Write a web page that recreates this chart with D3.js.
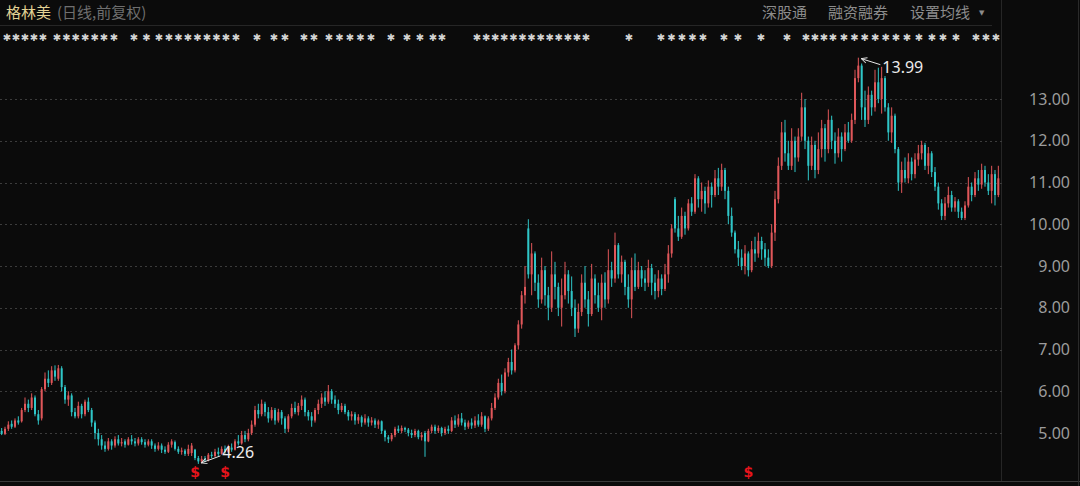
<!DOCTYPE html>
<html><head><meta charset="utf-8">
<script src="https://cdn.jsdelivr.net/npm/d3@7"></script>
<style>html,body{margin:0;padding:0;background:#0b0b0b;overflow:hidden}</style>
</head><body><svg id="c" width="1080" height="486"></svg>
<script>
// ---------- DATA ----------
const title = "格林美";
const subtitle = "(日线,前复权)";
const menuItems = ["深股通", "融资融券", "设置均线"];
const yTicks = [5, 6, 7, 8, 9, 10, 11, 12, 13];
const signalIdx = [58, 67, 224];

const opens = [
5.05,4.98,5.10,5.22,5.15,5.30,5.28,5.55,5.70,5.60,
5.85,5.45,5.35,6.05,6.30,6.20,6.50,6.30,6.55,6.10,
5.80,5.90,5.50,5.40,5.65,5.45,5.75,5.55,5.25,5.00,
4.85,4.70,4.62,4.80,4.70,4.85,4.75,4.80,4.72,4.85,
4.80,4.75,4.85,4.78,4.72,4.80,4.70,4.62,4.70,4.60,
4.55,4.72,4.78,4.62,4.55,4.58,4.50,4.52,4.60,4.40,
4.32,4.38,4.35,4.48,4.45,4.55,4.50,4.62,4.55,4.65,
4.60,4.80,4.75,4.95,4.85,5.00,5.20,5.55,5.45,5.70,
5.50,5.35,5.55,5.30,5.50,5.35,5.10,5.40,5.60,5.50,
5.65,5.80,5.50,5.40,5.30,5.55,5.70,5.85,5.75,6.00,
5.80,5.70,5.55,5.65,5.50,5.40,5.45,5.30,5.38,5.25,
5.35,5.25,5.30,5.20,5.28,5.05,4.90,4.85,4.95,5.10,
5.05,5.12,5.08,5.00,4.95,5.05,4.90,5.00,4.80,5.05,
5.15,5.05,5.12,5.00,5.10,5.05,5.30,5.20,5.35,5.25,
5.15,5.25,5.18,5.30,5.20,5.40,5.10,5.35,5.60,5.85,
6.20,6.00,6.45,6.70,6.50,7.10,7.60,8.30,9.90,8.80,
9.30,8.60,8.20,8.90,8.30,8.00,8.80,8.50,8.00,8.30,
8.80,8.40,8.00,7.50,7.90,8.60,8.20,7.85,8.70,8.30,
8.00,8.60,8.20,8.90,8.70,9.50,8.80,9.10,8.50,8.20,
8.90,8.50,8.90,8.70,8.60,8.95,8.60,8.40,8.70,8.45,
8.80,9.30,10.60,9.90,9.70,10.20,9.90,10.50,10.30,11.10,
10.60,10.80,10.50,10.90,10.70,11.10,10.90,11.30,10.80,10.20,
9.80,9.40,9.20,9.00,9.30,8.90,9.40,9.30,9.60,9.40,
9.20,9.00,9.80,10.60,11.40,12.20,11.70,11.40,12.00,11.60,
12.10,12.80,12.00,11.40,11.90,11.30,11.80,12.30,11.80,12.50,
12.00,11.70,12.10,11.80,12.20,12.00,12.50,13.50,13.80,12.80,
12.50,13.10,12.80,13.40,13.00,13.50,12.80,12.20,12.60,11.80,
11.00,11.30,11.10,11.50,11.20,11.55,11.70,11.90,11.40,11.70,
11.25,10.90,10.50,10.20,10.50,10.70,10.40,10.55,10.30,10.15,
10.45,10.90,10.70,11.10,10.95,11.30,11.00,10.80,11.20,10.70
];
const closes = [
4.98,5.10,5.20,5.15,5.30,5.25,5.55,5.70,5.60,5.85,
5.45,5.30,6.05,6.30,6.20,6.50,6.35,6.55,6.10,5.80,
5.90,5.50,5.40,5.65,5.45,5.75,5.55,5.25,5.00,4.85,
4.70,4.62,4.80,4.70,4.85,4.75,4.78,4.72,4.85,4.80,
4.75,4.85,4.78,4.72,4.80,4.70,4.62,4.70,4.60,4.55,
4.72,4.80,4.62,4.55,4.58,4.50,4.62,4.70,4.40,4.32,
4.38,4.35,4.48,4.45,4.55,4.50,4.62,4.55,4.65,4.60,
4.80,4.75,4.95,4.85,5.00,5.20,5.55,5.45,5.70,5.50,
5.35,5.55,5.30,5.50,5.35,5.10,5.40,5.60,5.50,5.65,
5.80,5.50,5.40,5.30,5.55,5.70,5.85,5.75,6.00,5.80,
5.70,5.55,5.65,5.50,5.40,5.45,5.30,5.38,5.25,5.35,
5.25,5.30,5.20,5.28,5.05,4.90,4.85,4.95,5.10,5.05,
5.12,5.08,5.00,4.95,5.05,4.90,4.95,4.80,5.05,5.15,
5.05,5.12,5.00,5.10,5.05,5.30,5.20,5.35,5.25,5.15,
5.25,5.18,5.30,5.20,5.40,5.10,5.35,5.60,5.85,6.20,
6.00,6.45,6.70,6.50,7.10,7.60,8.30,8.50,8.80,9.30,
8.60,8.20,8.90,8.30,8.00,8.80,8.50,8.00,8.30,8.80,
8.40,8.00,7.50,7.90,8.60,8.20,7.85,8.70,8.30,8.00,
8.60,8.20,8.90,8.70,9.50,8.80,9.10,8.50,8.20,8.90,
8.50,8.90,8.70,8.60,8.95,8.60,8.40,8.70,8.45,8.80,
9.30,9.90,9.90,9.70,10.20,9.90,10.50,10.30,11.10,10.60,
10.80,10.50,10.90,10.70,11.10,10.90,11.30,10.80,10.20,9.80,
9.40,9.20,9.00,9.30,8.90,9.40,9.30,9.60,9.40,9.20,
9.00,9.80,10.60,11.40,12.20,11.70,11.40,12.00,11.60,12.10,
12.80,12.00,11.40,11.90,11.30,11.80,12.30,11.80,12.50,12.00,
11.70,12.10,11.80,12.20,12.00,12.50,13.50,13.80,12.80,12.50,
13.10,12.80,13.40,13.00,13.50,12.80,12.20,12.60,11.80,11.00,
11.30,11.10,11.50,11.20,11.55,11.70,11.90,11.40,11.70,11.25,
10.90,10.50,10.20,10.50,10.70,10.40,10.55,10.30,10.15,10.45,
10.90,10.70,11.10,10.95,11.30,11.00,10.80,11.20,10.70,11.10
];
const highs = [
5.12,5.15,5.28,5.30,5.35,5.40,5.60,5.85,5.80,5.95,
5.90,5.55,6.10,6.45,6.50,6.60,6.62,6.63,6.60,6.15,
6.00,5.95,5.60,5.75,5.70,5.80,5.85,5.60,5.30,5.10,
4.95,4.80,4.88,4.85,4.92,4.95,4.88,4.85,4.90,4.95,
4.88,4.90,4.90,4.85,4.85,4.85,4.75,4.78,4.75,4.68,
4.78,4.85,4.82,4.68,4.65,4.62,4.72,4.76,4.62,4.45,
4.45,4.45,4.52,4.55,4.62,4.65,4.68,4.70,4.72,4.75,
4.85,4.95,5.05,5.05,5.10,5.30,5.65,5.70,5.80,5.75,
5.62,5.62,5.60,5.58,5.55,5.40,5.45,5.70,5.75,5.72,
5.90,5.85,5.55,5.50,5.60,5.80,5.95,6.00,6.15,6.05,
5.90,5.80,5.72,5.70,5.55,5.52,5.50,5.45,5.42,5.45,
5.40,5.38,5.35,5.32,5.30,5.08,4.95,5.00,5.15,5.18,
5.18,5.15,5.12,5.08,5.10,5.08,5.02,5.05,5.10,5.20,
5.20,5.18,5.15,5.15,5.18,5.38,5.42,5.45,5.48,5.32,
5.30,5.35,5.40,5.45,5.50,5.42,5.40,5.72,5.95,6.30,
6.40,6.55,6.80,7.00,7.15,7.70,8.40,9.00,10.12,9.55,
9.35,8.80,9.20,9.00,8.50,9.35,9.10,8.60,8.70,9.10,
8.90,8.75,8.20,8.10,8.80,9.00,8.40,9.05,8.80,8.60,
8.80,8.85,9.40,9.10,9.80,9.55,9.25,9.15,8.80,9.20,
9.30,9.10,9.00,8.90,9.15,9.05,8.80,8.90,8.80,9.05,
9.50,10.00,10.65,10.20,10.40,10.30,10.60,10.65,11.20,11.15,
11.00,10.90,11.05,11.00,11.30,11.35,11.45,11.35,10.90,10.40,
9.85,9.60,9.40,9.50,9.35,9.60,9.70,9.80,9.70,9.55,
9.40,10.00,10.80,11.60,12.45,12.50,12.00,12.30,12.10,12.30,
13.15,13.00,12.10,12.10,12.00,12.20,12.50,12.40,12.75,12.60,
12.20,12.30,12.20,12.40,12.45,12.65,13.70,13.99,13.85,13.20,
13.30,13.20,13.70,13.75,13.77,13.55,12.90,12.80,12.65,11.85,
11.50,11.60,11.70,11.60,11.70,11.90,12.00,11.95,11.85,11.75,
11.37,11.00,10.60,10.65,10.90,10.80,10.65,10.60,10.40,10.55,
11.13,11.00,11.25,11.30,11.45,11.40,11.20,11.40,11.30,11.40
];
const lows = [
4.95,4.95,5.05,5.10,5.12,5.20,5.25,5.50,5.50,5.55,
5.40,5.20,5.30,6.00,6.10,6.15,6.25,6.25,6.00,5.70,
5.65,5.40,5.35,5.35,5.35,5.40,5.50,5.15,4.85,4.70,
4.60,4.55,4.58,4.60,4.65,4.70,4.68,4.65,4.70,4.72,
4.68,4.70,4.72,4.65,4.68,4.62,4.55,4.58,4.52,4.50,
4.52,4.65,4.58,4.50,4.48,4.45,4.45,4.45,4.35,4.26,
4.28,4.30,4.32,4.40,4.42,4.45,4.48,4.50,4.52,4.55,
4.58,4.70,4.72,4.78,4.80,4.95,5.15,5.35,5.40,5.40,
5.25,5.30,5.20,5.25,5.20,5.00,5.02,5.35,5.45,5.42,
5.55,5.40,5.30,5.15,5.25,5.45,5.60,5.65,5.70,5.70,
5.60,5.45,5.50,5.45,5.30,5.30,5.20,5.22,5.15,5.20,
5.15,5.18,5.12,5.10,4.98,4.80,4.76,4.80,4.90,5.00,
5.00,5.02,4.92,4.88,4.90,4.85,4.82,4.43,4.78,5.00,
4.98,5.00,4.92,4.95,4.98,5.02,5.12,5.15,5.18,5.07,
5.10,5.10,5.12,5.15,5.15,5.02,5.05,5.30,5.55,5.80,
5.90,5.95,6.35,6.40,6.45,7.00,7.50,8.10,8.70,8.30,
8.40,8.00,8.10,8.05,7.70,7.90,8.20,7.80,7.55,8.20,
8.10,7.80,7.30,7.40,7.80,8.00,7.55,7.80,8.10,7.90,
7.70,8.00,8.10,8.50,8.60,8.70,8.60,8.30,8.00,7.75,
8.40,8.45,8.50,8.40,8.50,8.30,8.20,8.25,8.30,8.40,
8.60,9.20,9.80,9.60,9.65,9.75,9.85,10.20,10.25,10.40,
10.30,10.25,10.40,10.40,10.65,10.70,10.80,10.60,10.00,9.70,
9.30,9.00,8.90,8.80,8.75,8.85,9.10,9.20,9.15,9.00,
8.95,8.95,9.60,10.50,11.30,11.50,11.30,11.30,11.25,11.50,
12.00,11.80,11.05,11.30,11.10,11.20,11.60,11.50,11.70,11.80,
11.45,11.60,11.50,11.75,11.95,11.95,12.40,13.40,12.50,12.33,
12.40,12.60,12.70,12.90,12.65,12.70,12.00,11.95,11.70,10.80,
10.75,11.00,10.98,11.05,11.10,11.40,11.55,11.30,11.20,11.13,
10.80,10.35,10.10,10.10,10.40,10.30,10.30,10.15,10.10,10.10,
10.40,10.55,10.65,10.80,10.85,10.90,10.70,10.50,10.45,10.65
];
// decorative event-flag row (x spans in the header strip)
const flagSpans = [[3,47],[53,108],[110,118],[130,163],[165,230],[232,248],[253,263],[270,278],[281,290],[300,318],[325,375],[387,398],[403,437],[438,453],[473,590],[625,640],[657,707],[720,742],[757,770],[783,797],[802,837],[840,900],[903,923],[928,947],[952,960],[972,1000]];

// ---------- DRAW ----------
const W = 1080, H = 486;
const UP = "#e0575a", DOWN = "#2fc6c8";
const svg = d3.select("#c");
svg.append("rect").attr("width", W).attr("height", H).attr("fill", "#0b0b0b");

const data = closes.map((c, i) => ({i, o: opens[i], c, h: highs[i], l: lows[i]}));
const x = d3.scaleBand().domain(d3.range(data.length)).range([0, 1000]).paddingInner(0.4).paddingOuter(0.2);
const y = d3.scaleLinear().domain([5, 13]).range([433, 99]);
const bw = x.bandwidth();

// frame lines
svg.append("line").attr("x1", 0).attr("x2", 992).attr("y1", 25.5).attr("y2", 25.5).attr("stroke", "#262626");
svg.append("line").attr("x1", 1001.5).attr("x2", 1001.5).attr("y1", 0).attr("y2", 481).attr("stroke", "#262626");
svg.append("line").attr("x1", 0).attr("x2", W).attr("y1", 481.5).attr("y2", 481.5).attr("stroke", "#3a3a3a");
svg.append("line").attr("x1", 1078.5).attr("x2", 1078.5).attr("y1", 0).attr("y2", 486).attr("stroke", "#2a2a2a");

// grid
svg.append("g").selectAll("line").data(yTicks).join("line")
  .attr("x1", 0).attr("x2", 1002)
  .attr("y1", d => Math.round(y(d)) + 0.5).attr("y2", d => Math.round(y(d)) + 0.5)
  .attr("stroke", "#3c3c3c").attr("stroke-dasharray", "2,3");

// y axis
const yAxis = d3.axisLeft(y).tickValues(yTicks).tickFormat(d3.format(".2f")).tickSize(0).tickPadding(0);
const ag = svg.append("g").attr("transform", "translate(1070,0)").call(yAxis);
ag.select(".domain").remove();
ag.selectAll("text").attr("fill", "#9c9c9c").attr("font-size", 16)
  .attr("font-family", "'Noto Sans', 'DejaVu Sans', sans-serif");

// candles
const cg = svg.append("g");
cg.selectAll("line").data(data).join("line")
  .attr("x1", d => x(d.i) + bw / 2).attr("x2", d => x(d.i) + bw / 2)
  .attr("y1", d => y(Math.max(d.h, d.o, d.c))).attr("y2", d => y(Math.min(d.l, d.o, d.c)))
  .attr("stroke", d => d.c >= d.o ? UP : DOWN).attr("stroke-width", 1);
cg.selectAll("rect").data(data).join("rect")
  .attr("x", d => x(d.i)).attr("width", bw)
  .attr("y", d => y(Math.max(d.o, d.c)))
  .attr("height", d => Math.max(1, Math.abs(y(d.o) - y(d.c))))
  .attr("fill", d => d.c >= d.o ? UP : DOWN);

// max / min annotations
const maxD = data.reduce((a, b) => b.h > a.h ? b : a);
const minD = data.reduce((a, b) => b.l < a.l ? b : a);
svg.append("defs").append("marker").attr("id", "ah").attr("viewBox", "0 0 10 10")
  .attr("refX", 9).attr("refY", 5).attr("markerWidth", 7).attr("markerHeight", 7).attr("orient", "auto")
  .attr("markerUnits", "userSpaceOnUse")
  .append("path").attr("d", "M1,1 L9,5 L1,9").attr("fill", "none").attr("stroke", "#e6e6e6").attr("stroke-width", 1.3);
function annotate(d, val, dx, dy, tdy) {
  const px = x(d.i) + bw / 2 + 1, py = y(val);
  svg.append("line").attr("x1", px + dx).attr("y1", py + dy).attr("x2", px + 2).attr("y2", py + (dy > 0 ? 1 : -1))
    .attr("stroke", "#e6e6e6").attr("stroke-width", 1).attr("marker-end", "url(#ah)");
  svg.append("text").attr("x", px + dx + 2).attr("y", py + dy + tdy).text(d3.format(".2f")(val))
    .attr("fill", "#ececec").attr("font-size", 16).attr("font-family", "'Noto Sans', sans-serif");
}
annotate(maxD, maxD.h, 21, 7, 8);
annotate(minD, minD.l, 21, -8, 2);

// signal markers
svg.append("g").selectAll("text").data(signalIdx).join("text")
  .attr("x", i => x(i) + bw / 2).attr("y", 477).attr("text-anchor", "middle")
  .attr("fill", "#e8141c").attr("font-size", 14).attr("font-weight", "bold")
  .attr("font-family", "'DejaVu Sans', sans-serif").text("$");

// flag row: individual glyphs, spaced so they do not overlap
const flags = [];
flagSpans.forEach(([a, b]) => {
  const n = Math.max(1, Math.floor((b - a - 8) / 9) + 1);
  const step = n > 1 ? (b - a - 8) / (n - 1) : 0;
  for (let k = 0; k < n; k++) flags.push(a + 4 + k * step);
});
svg.append("g").selectAll("text").data(flags).join("text")
  .attr("x", d => d).attr("y", 41).attr("text-anchor", "middle")
  .attr("fill", "#d4d4d4").attr("font-size", 10).attr("font-weight", "bold")
  .attr("font-family", "'DejaVu Sans', sans-serif").text("✱");

// header
const hdr = svg.append("text").attr("x", 6).attr("y", 18)
  .attr("font-family", "'Noto Sans CJK SC', sans-serif").attr("font-size", 15);
hdr.append("tspan").attr("fill", "#e3d396").text(title);
hdr.append("tspan").attr("fill", "#6f6f6f").attr("dx", 6).text(subtitle);

const menuX = [762, 828, 910];
svg.append("g").selectAll("text").data(menuItems).join("text")
  .attr("x", (d, i) => menuX[i]).attr("y", 18)
  .attr("fill", "#8c8c8c").attr("font-size", 15)
  .attr("font-family", "'Noto Sans CJK SC', sans-serif").text(d => d);
svg.append("text").attr("x", 979).attr("y", 15).attr("fill", "#8c8c8c").attr("font-size", 7)
  .attr("font-family", "'DejaVu Sans', sans-serif").text("▼");
</script></body></html>
